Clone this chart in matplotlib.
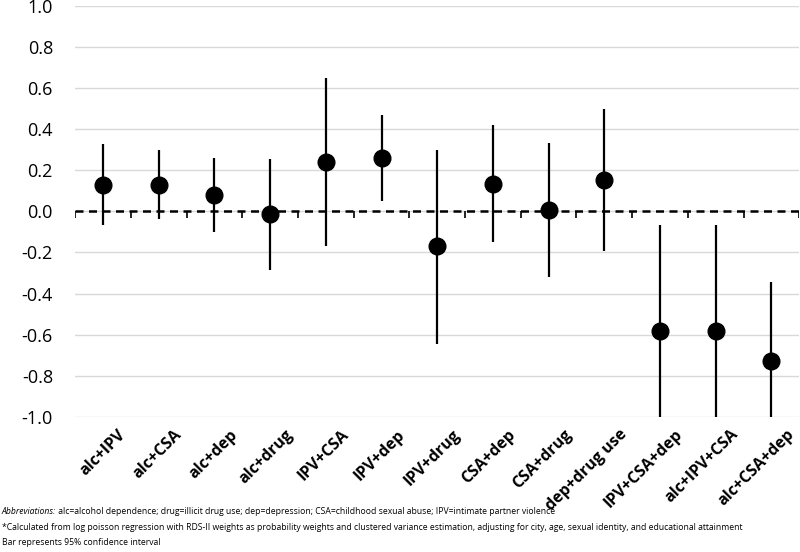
import matplotlib.pyplot as plt
from matplotlib import transforms

labels = ["alc+IPV", "alc+CSA", "alc+dep", "alc+drug", "IPV+CSA", "IPV+dep",
          "IPV+drug", "CSA+dep", "CSA+drug", "dep+drug use", "IPV+CSA+dep",
          "alc+IPV+CSA", "alc+CSA+dep"]
estimate = [0.13, 0.13, 0.08, -0.015, 0.24, 0.26, -0.17, 0.135, 0.005, 0.155,
            -0.58, -0.58, -0.73]
ci_low = [-0.065, -0.035, -0.10, -0.285, -0.17, 0.05, -0.645, -0.15, -0.32,
          -0.195, -1.0, -1.0, -1.0]
ci_high = [0.326, 0.30, 0.26, 0.255, 0.65, 0.47, 0.30, 0.42, 0.335, 0.50,
           -0.065, -0.065, -0.345]

plt.rcParams["font.family"] = ["Open Sans", "DejaVu Sans"]

fig = plt.figure(figsize=(8, 5.52), dpi=100)
ax = fig.add_axes([0.094, 0.245, 0.905, 0.744])

x = list(range(len(labels)))
ax.vlines(x, ci_low, ci_high, color="black", lw=1.6, zorder=3)
ax.plot(x, estimate, "o", color="black", ms=12, zorder=4)

ax.axhline(0, color="black", lw=1.8, ls=(0, (3.2, 2.2)), zorder=2)
# small tick marks along the zero line at category edges
ax.vlines([i - 0.5 for i in range(len(labels) + 1)], -0.03, 0,
          color="black", lw=1.2, zorder=2)

ax.set_xlim(-0.5, len(labels) - 0.5)
ax.set_ylim(-1.0, 1.0)
ax.set_yticks([i / 10 for i in range(-10, 11, 2)])
ax.set_yticklabels([f"{v / 10:.1f}" for v in range(-10, 11, 2)], fontsize=13)
ax.yaxis.grid(True, color="#d9d9d9", lw=1)
ax.set_axisbelow(True)
for s in ax.spines.values():
    s.set_visible(False)
ax.tick_params(axis="both", length=0)
ax.tick_params(axis="y", pad=16)

ax.set_xticks(x)
ax.set_xticklabels(labels, rotation=45, ha="right", rotation_mode="anchor",
                   fontsize=11.5, fontweight="bold")
offset = transforms.ScaledTranslation(15 / 100, -5 / 100, fig.dpi_scale_trans)
for t in ax.get_xticklabels():
    t.set_transform(t.get_transform() + offset)

# footnotes
fs = 6.25
t1 = fig.text(0.002, 0.069, "Abbreviations:", fontsize=fs, style="italic")
ax.annotate(" alc=alcohol dependence; drug=illicit drug use; dep=depression; "
            "CSA=childhood sexual abuse; IPV=intimate partner violence",
            xy=(1, 0), xycoords=t1, va="bottom", fontsize=fs)
fig.text(0.002, 0.040, "*Calculated from log poisson regression with RDS-II weights as "
         "probability weights and clustered variance estimation, adjusting for city, "
         "age, sexual identity, and educational attainment", fontsize=fs)
fig.text(0.002, 0.013, "Bar represents 95% confidence interval", fontsize=fs)

fig.savefig("out.png", dpi=100)
